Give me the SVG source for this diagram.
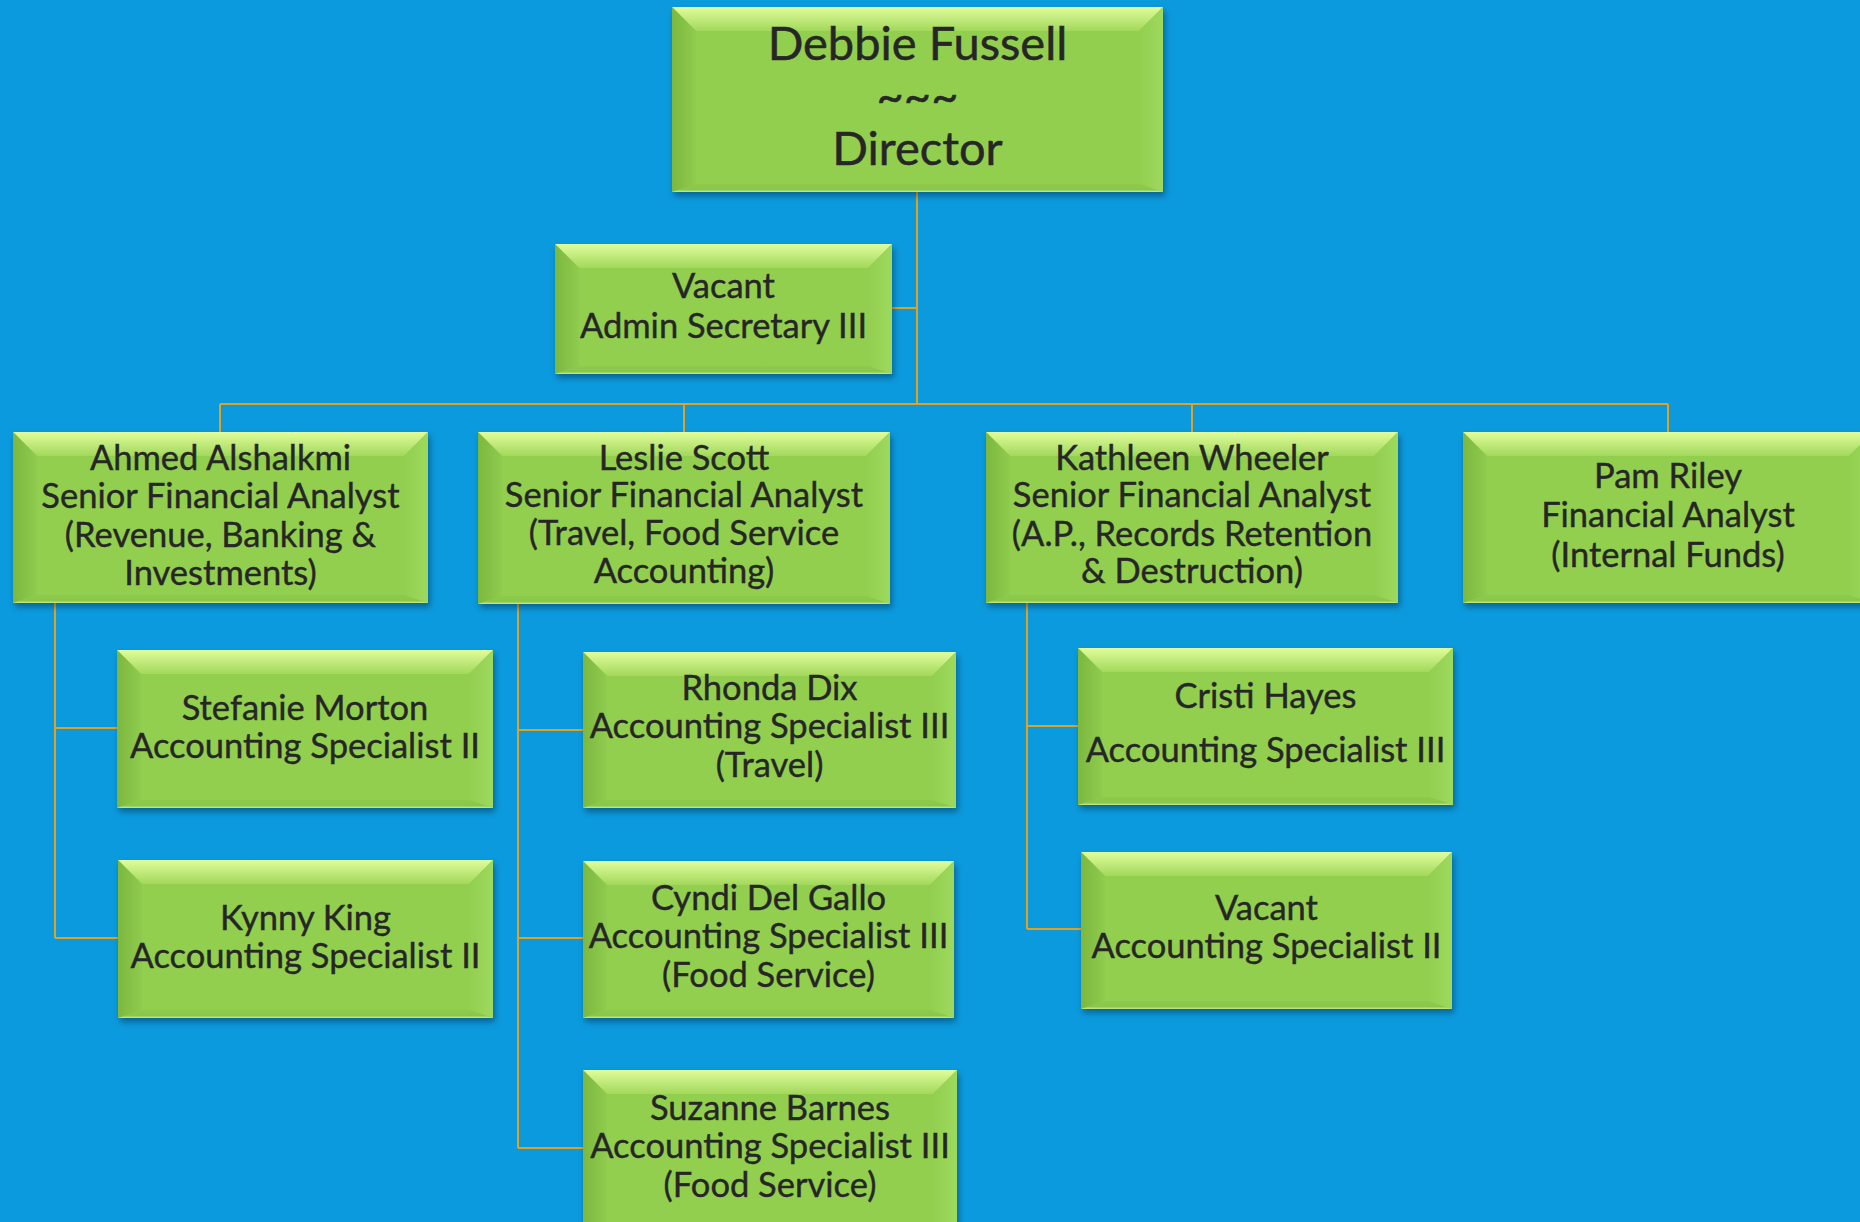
<svg xmlns="http://www.w3.org/2000/svg" width="1860" height="1222" viewBox="0 0 1860 1222">
<defs>
<style>
.base{fill:#92CF50;filter:url(#sh)}
.bt{fill:url(#gTop)}
.bl{fill:url(#gLeft)}
.br{fill:url(#gRight)}
.bb{fill:url(#gBot)}
text{font-family:Lato,"Liberation Sans",sans-serif;fill:#262626;text-anchor:middle;font-size:34.5px;stroke:#262626;stroke-width:0.4px}
.big{font-size:47px;stroke-width:0.5px}
.conn path{fill:none;stroke:#E2A21E;stroke-width:2}
</style>
<linearGradient id="gTop" x1="0" y1="0" x2="0" y2="1"><stop offset="0" stop-color="#E0FD9C"/><stop offset="1" stop-color="#A2D85B"/></linearGradient>
<linearGradient id="gLeft" x1="0" y1="0" x2="1" y2="0"><stop offset="0" stop-color="#7CB83F"/><stop offset="1" stop-color="#8ECB4E"/></linearGradient>
<linearGradient id="gRight" x1="0" y1="0" x2="1" y2="0"><stop offset="0" stop-color="#92CF50"/><stop offset="1" stop-color="#9DD95D"/></linearGradient>
<linearGradient id="gBot" x1="0" y1="0" x2="0" y2="1"><stop offset="0" stop-color="#8DCA4C"/><stop offset="0.7" stop-color="#8AC64A"/><stop offset="1" stop-color="#C6EE8A"/></linearGradient>
<filter id="sh" x="-5%" y="-5%" width="112%" height="120%"><feDropShadow dx="2" dy="4" stdDeviation="3" flood-color="#000" flood-opacity="0.35"/></filter>
</defs>
<rect width="1860" height="1222" fill="#0B9ADE"/>
<g class="conn" id="connectors">
<path d="M917,192 V404"/>
<path d="M892,308 H917"/>
<path d="M220,404 H1668"/>
<path d="M220,404 V432 M684,404 V432 M1192,404 V432 M1668,404 V432"/>
<path d="M55,603 V938 M55,728 H117 M55,938 H118"/>
<path d="M518,604 V1148 M518,730 H583 M518,938 H583 M518,1148 H583"/>
<path d="M1027,603 V929 M1027,726 H1078 M1027,929 H1081"/>
</g>
<g id="n-director" transform="translate(672,7)">
<rect class="base" width="491" height="185"/>
<polygon class="bt" points="0,0 491,0 467,24 24,24"/>
<polygon class="bl" points="0,0 24,24 24,177 0,185"/>
<polygon class="br" points="491,0 491,185 467,177 467,24"/>
<polygon class="bb" points="0,185 24,177 467,177 491,185"/>
<text class="big" x="245.5" y="53">Debbie Fussell</text>
<text class="big" x="245.5" y="106">~~~</text>
<text class="big" x="245.5" y="158">Director</text>
</g>
<g id="n-admin" transform="translate(555,244)">
<rect class="base" width="337" height="130"/>
<polygon class="bt" points="0,0 337,0 313,24 24,24"/>
<polygon class="bl" points="0,0 24,24 24,122 0,130"/>
<polygon class="br" points="337,0 337,130 313,122 313,24"/>
<polygon class="bb" points="0,130 24,122 313,122 337,130"/>
<text x="168.5" y="54">Vacant</text>
<text x="168.5" y="94">Admin Secretary III</text>
</g>
<g id="n-ahmed" transform="translate(13,432)">
<rect class="base" width="415" height="171"/>
<polygon class="bt" points="0,0 415,0 391,24 24,24"/>
<polygon class="bl" points="0,0 24,24 24,163 0,171"/>
<polygon class="br" points="415,0 415,171 391,163 391,24"/>
<polygon class="bb" points="0,171 24,163 391,163 415,171"/>
<text x="207.5" y="38">Ahmed Alshalkmi</text>
<text x="207.5" y="76">Senior Financial Analyst</text>
<text x="207.5" y="115">(Revenue, Banking &amp;</text>
<text x="207.5" y="153">Investments)</text>
</g>
<g id="n-leslie" transform="translate(478,432)">
<rect class="base" width="412" height="172"/>
<polygon class="bt" points="0,0 412,0 388,24 24,24"/>
<polygon class="bl" points="0,0 24,24 24,164 0,172"/>
<polygon class="br" points="412,0 412,172 388,164 388,24"/>
<polygon class="bb" points="0,172 24,164 388,164 412,172"/>
<text x="206" y="38">Leslie Scott</text>
<text x="206" y="75">Senior Financial Analyst</text>
<text x="206" y="113">(Travel, Food Service</text>
<text x="206" y="151">Accounting)</text>
</g>
<g id="n-kathleen" transform="translate(986,432)">
<rect class="base" width="412" height="171"/>
<polygon class="bt" points="0,0 412,0 388,24 24,24"/>
<polygon class="bl" points="0,0 24,24 24,163 0,171"/>
<polygon class="br" points="412,0 412,171 388,163 388,24"/>
<polygon class="bb" points="0,171 24,163 388,163 412,171"/>
<text x="206" y="38">Kathleen Wheeler</text>
<text x="206" y="75">Senior Financial Analyst</text>
<text x="206" y="114">(A.P., Records Retention</text>
<text x="206" y="151">&amp; Destruction)</text>
</g>
<g id="n-pam" transform="translate(1463,432)">
<rect class="base" width="410" height="171"/>
<polygon class="bt" points="0,0 410,0 386,24 24,24"/>
<polygon class="bl" points="0,0 24,24 24,163 0,171"/>
<polygon class="br" points="410,0 410,171 386,163 386,24"/>
<polygon class="bb" points="0,171 24,163 386,163 410,171"/>
<text x="205" y="56">Pam Riley</text>
<text x="205" y="95">Financial Analyst</text>
<text x="205" y="135">(Internal Funds)</text>
</g>
<g id="n-stefanie" transform="translate(117,650)">
<rect class="base" width="376" height="158"/>
<polygon class="bt" points="0,0 376,0 352,24 24,24"/>
<polygon class="bl" points="0,0 24,24 24,150 0,158"/>
<polygon class="br" points="376,0 376,158 352,150 352,24"/>
<polygon class="bb" points="0,158 24,150 352,150 376,158"/>
<text x="188" y="70">Stefanie Morton</text>
<text x="188" y="108">Accounting Specialist II</text>
</g>
<g id="n-kynny" transform="translate(118,860)">
<rect class="base" width="375" height="158"/>
<polygon class="bt" points="0,0 375,0 351,24 24,24"/>
<polygon class="bl" points="0,0 24,24 24,150 0,158"/>
<polygon class="br" points="375,0 375,158 351,150 351,24"/>
<polygon class="bb" points="0,158 24,150 351,150 375,158"/>
<text x="187.5" y="70">Kynny King</text>
<text x="187.5" y="108">Accounting Specialist II</text>
</g>
<g id="n-rhonda" transform="translate(583,652)">
<rect class="base" width="373" height="156"/>
<polygon class="bt" points="0,0 373,0 349,24 24,24"/>
<polygon class="bl" points="0,0 24,24 24,148 0,156"/>
<polygon class="br" points="373,0 373,156 349,148 349,24"/>
<polygon class="bb" points="0,156 24,148 349,148 373,156"/>
<text x="186.5" y="48">Rhonda Dix</text>
<text x="186.5" y="86">Accounting Specialist III</text>
<text x="186.5" y="125">(Travel)</text>
</g>
<g id="n-cyndi" transform="translate(583,861)">
<rect class="base" width="371" height="157"/>
<polygon class="bt" points="0,0 371,0 347,24 24,24"/>
<polygon class="bl" points="0,0 24,24 24,149 0,157"/>
<polygon class="br" points="371,0 371,157 347,149 347,24"/>
<polygon class="bb" points="0,157 24,149 347,149 371,157"/>
<text x="185.5" y="49">Cyndi Del Gallo</text>
<text x="185.5" y="87">Accounting Specialist III</text>
<text x="185.5" y="126">(Food Service)</text>
</g>
<g id="n-suzanne" transform="translate(583,1070)">
<rect class="base" width="374" height="170"/>
<polygon class="bt" points="0,0 374,0 350,24 24,24"/>
<polygon class="bl" points="0,0 24,24 24,170 0,170"/>
<polygon class="br" points="374,0 374,170 350,170 350,24"/>
<text x="187" y="50">Suzanne Barnes</text>
<text x="187" y="88">Accounting Specialist III</text>
<text x="187" y="127">(Food Service)</text>
</g>
<g id="n-cristi" transform="translate(1078,648)">
<rect class="base" width="375" height="157"/>
<polygon class="bt" points="0,0 375,0 351,24 24,24"/>
<polygon class="bl" points="0,0 24,24 24,149 0,157"/>
<polygon class="br" points="375,0 375,157 351,149 351,24"/>
<polygon class="bb" points="0,157 24,149 351,149 375,157"/>
<text x="187.5" y="60">Cristi Hayes</text>
<text x="187.5" y="114">Accounting Specialist III</text>
</g>
<g id="n-vacant2" transform="translate(1081,852)">
<rect class="base" width="371" height="157"/>
<polygon class="bt" points="0,0 371,0 347,24 24,24"/>
<polygon class="bl" points="0,0 24,24 24,149 0,157"/>
<polygon class="br" points="371,0 371,157 347,149 347,24"/>
<polygon class="bb" points="0,157 24,149 347,149 371,157"/>
<text x="185.5" y="68">Vacant</text>
<text x="185.5" y="106">Accounting Specialist II</text>
</g>
</svg>
